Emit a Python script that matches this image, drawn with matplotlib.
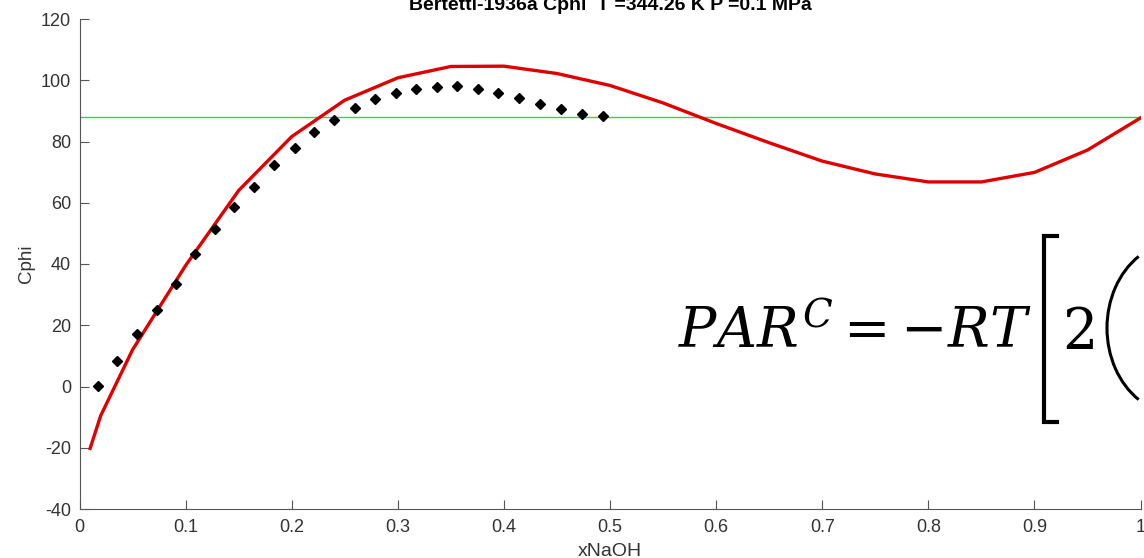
import matplotlib
matplotlib.use("Agg")
import matplotlib.pyplot as plt
from matplotlib.lines import Line2D
from matplotlib.patches import Arc

# experimental points (Bertetti-1936a)
x_exp = [0.0177, 0.0356, 0.0539, 0.0727, 0.0906, 0.109, 0.1277, 0.1459, 0.1645,
         0.183, 0.203, 0.221, 0.240, 0.2594, 0.2788, 0.298, 0.317, 0.3367,
         0.356, 0.3756, 0.3947, 0.414, 0.434, 0.454, 0.474, 0.4937]
cphi_exp = [0.2, 8.4, 17.0, 25.0, 33.5, 43.3, 51.5, 58.7, 65.2,
            72.2, 77.8, 83.0, 87.0, 91.0, 94.0, 95.9, 97.1, 97.9,
            98.1, 97.1, 95.9, 94.3, 92.1, 90.5, 89.0, 88.3]

# model curve
x_mod = [0.01, 0.02, 0.05, 0.10, 0.15, 0.20, 0.25, 0.30, 0.35, 0.40, 0.45,
         0.50, 0.55, 0.60, 0.65, 0.70, 0.75, 0.80, 0.85, 0.90, 0.95, 1.00]
cphi_mod = [-20.2, -9.5, 12.0, 39.5, 64.0, 81.6, 93.5, 100.8, 104.5, 104.6, 102.2,
            98.3, 92.6, 85.9, 79.6, 73.6, 69.4, 66.8, 66.8, 69.9, 77.2, 87.7]

cphi_ref = 87.9

plt.rcParams['axes.unicode_minus'] = False
plt.rcParams['mathtext.fontset'] = 'dejavuserif'

W, H = 1144, 558
fig = plt.figure(figsize=(W / 100, H / 100), dpi=100)
ax = fig.add_axes([79.5 / W, 49 / H, 1061 / W, 490 / H])

ax.axhline(cphi_ref, color='#2fdc2f', lw=1.0)
ax.plot(x_mod, cphi_mod, color='#e00000', lw=2.4)
ax.plot(x_exp, cphi_exp, 'kD', ms=5.5)

ax.set_xlim(0, 1)
ax.set_ylim(-40, 120)
ax.set_xticks([0, 0.1, 0.2, 0.3, 0.4, 0.5, 0.6, 0.7, 0.8, 0.9, 1])
ax.set_xticklabels(['0', '0.1', '0.2', '0.3', '0.4', '0.5', '0.6', '0.7', '0.8', '0.9', '1'])
ax.set_yticks(range(-40, 121, 20))

for s in ['top', 'right']:
    ax.spines[s].set_visible(False)
for s in ['left', 'bottom']:
    ax.spines[s].set_color('#555555')
    ax.spines[s].set_linewidth(0.8)
ax.tick_params(direction='in', length=6.5, width=0.8, color='#555555',
               labelcolor='#333333', labelsize=13)
ax.tick_params(axis='x', pad=7)
ax.tick_params(axis='y', pad=6)
for lab in ax.get_xticklabels() + ax.get_yticklabels():
    lab.set_family('Liberation Sans')

fig.text(26 / W, 1 - 264 / H, 'Cphi', rotation=90, ha='center', va='center',
         family='Liberation Sans', fontsize=13.5, color='#333333')
fig.text(610 / W, 1 - 556 / H, 'xNaOH', ha='center', va='baseline',
         family='Liberation Sans', fontsize=14, color='#333333')
fig.text(610 / W, 1 - 10 / H, 'Bertetti-1936a Cphi  T =344.26 K P =0.1 MPa',
         ha='center', va='baseline', family='Liberation Sans', fontweight='bold',
         fontsize=14)

# equation overlay
fig.text(678 / W, 1 - 348 / H, r'$PAR^{C}=-RT$', ha='left', va='baseline',
         fontsize=40)
fig.add_artist(Line2D([1057 / W, 1044 / W, 1044 / W, 1057 / W],
                      [1 - 236 / H, 1 - 236 / H, 1 - 422 / H, 1 - 422 / H],
                      transform=fig.transFigure, color='black', lw=3,
                      solid_joinstyle='miter'))
fig.text(1062 / W, 1 - 348 / H, '2', ha='left', va='baseline',
         family='DejaVu Serif', fontsize=40)
fig.add_artist(Arc((1178 / W, 1 - 328 / H), 142 / W, 172 / H, theta1=105,
                   theta2=255, transform=fig.transFigure, color='black', lw=2.2))

fig.savefig('out.png', dpi=100)
